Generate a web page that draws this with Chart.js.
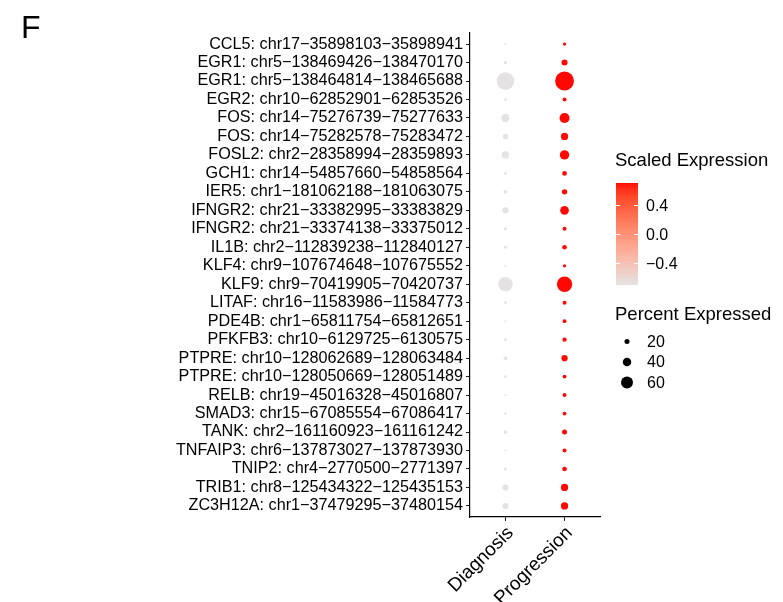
<!DOCTYPE html>
<html>
<head>
<meta charset="utf-8">
<script src="https://cdn.jsdelivr.net/npm/chart.js@4.4.1/dist/chart.umd.min.js"></script>
<style>
html,body{margin:0;padding:0;background:#fff;}
#wrap{width:783px;height:602px;position:relative;}
</style>
</head>
<body>
<div id="wrap"><canvas id="c" width="783" height="602"></canvas></div>
<script>
const features = [
"CCL5: chr17\u221235898103\u221235898941",
"EGR1: chr5\u2212138469426\u2212138470170",
"EGR1: chr5\u2212138464814\u2212138465688",
"EGR2: chr10\u221262852901\u221262853526",
"FOS: chr14\u221275276739\u221275277633",
"FOS: chr14\u221275282578\u221275283472",
"FOSL2: chr2\u221228358994\u221228359893",
"GCH1: chr14\u221254857660\u221254858564",
"IER5: chr1\u2212181062188\u2212181063075",
"IFNGR2: chr21\u221233382995\u221233383829",
"IFNGR2: chr21\u221233374138\u221233375012",
"IL1B: chr2\u2212112839238\u2212112840127",
"KLF4: chr9\u2212107674648\u2212107675552",
"KLF9: chr9\u221270419905\u221270420737",
"LITAF: chr16\u221211583986\u221211584773",
"PDE4B: chr1\u221265811754\u221265812651",
"PFKFB3: chr10\u22126129725\u22126130575",
"PTPRE: chr10\u2212128062689\u2212128063484",
"PTPRE: chr10\u2212128050669\u2212128051489",
"RELB: chr19\u221245016328\u221245016807",
"SMAD3: chr15\u221267085554\u221267086417",
"TANK: chr2\u2212161160923\u2212161161242",
"TNFAIP3: chr6\u2212137873027\u2212137873930",
"TNIP2: chr4\u22122770500\u22122771397",
"TRIB1: chr8\u2212125434322\u2212125435153",
"ZC3H12A: chr1\u221237479295\u221237480154"
];
const groups = ["Diagnosis", "Progression"];
const diagnosisPct   = [3,10,91,7,37,22,33,7,13,27,9,9,3,74,7,3,7,13,7,3,5,13,3,9,26,26];
const progressionPct = [10,26,99,14,49,33,45,18,22,41,14,18,10,79,14,13,16,27,13,14,13,20,14,18,33,33];
const diagnosisScaled   = -0.707;
const progressionScaled = 0.707;
const colorTicks = [0.4, 0.0, -0.4];
const colorTickLabels = ["0.4", "0.0", "\u22120.4"];
const sizeBreaks = [20, 40, 60];

const FONT = '"Liberation Sans", Arial, Helvetica, sans-serif';
const LOW = [227,227,227], HIGH = [255,0,0];
const SCALE_MIN = -0.715, SCALE_MAX = 0.715;

function pctToRadius(p){ return 0.75 + 0.0875 * p; }

function srgbToLin(c){ c/=255; return c<=0.04045? c/12.92 : Math.pow((c+0.055)/1.055,2.4); }
function linToSrgb(c){ c = c<=0.0031308? 12.92*c : 1.055*Math.pow(c,1/2.4)-0.055; return Math.round(Math.max(0,Math.min(1,c))*255); }
function toLab(rgb){
  const [r,g,b] = rgb.map(srgbToLin);
  let X = (0.4124*r+0.3576*g+0.1805*b)/0.95047, Y = 0.2126*r+0.7152*g+0.0722*b, Z=(0.0193*r+0.1192*g+0.9505*b)/1.08883;
  const f = t => t>0.008856? Math.cbrt(t) : 7.787*t+16/116;
  const fx=f(X), fy=f(Y), fz=f(Z);
  return [116*fy-16, 500*(fx-fy), 200*(fy-fz)];
}
function fromLab(lab){
  const fy=(lab[0]+16)/116, fx=fy+lab[1]/500, fz=fy-lab[2]/200;
  const fi = t => t>0.206893? t*t*t : (t-16/116)/7.787;
  const X=fi(fx)*0.95047, Y=fi(fy), Z=fi(fz)*1.08883;
  const r= 3.2406*X-1.5372*Y-0.4986*Z, g=-0.9689*X+1.8758*Y+0.0415*Z, b=0.0557*X-0.2040*Y+1.0570*Z;
  return [linToSrgb(r),linToSrgb(g),linToSrgb(b)];
}
const labLow = toLab(LOW), labHigh = toLab(HIGH);
function colorFor(v){
  let t = (v - SCALE_MIN)/(SCALE_MAX - SCALE_MIN); t = Math.max(0,Math.min(1,t));
  const lab = [0,1,2].map(i => labLow[i] + (labHigh[i]-labLow[i])*t);
  const c = fromLab(lab);
  return `rgb(${c[0]},${c[1]},${c[2]})`;
}

const diagData = features.map((f,i)=>({x:1, y:i+1, r:pctToRadius(diagnosisPct[i])}));
const progData = features.map((f,i)=>({x:2, y:i+1, r:pctToRadius(progressionPct[i])}));

const legendPlugin = {
  id:'legendPlugin',
  afterDraw(chart){
    const ctx = chart.ctx;
    ctx.save();
    ctx.fillStyle = '#000';
    ctx.textAlign = 'left';
    ctx.textBaseline = 'alphabetic';
    ctx.font = '32px ' + FONT;
    ctx.fillText('F', 21, 38);

    ctx.font = '18.5px ' + FONT;
    ctx.fillText('Scaled Expression', 615, 166);

    const bx = 616, by = 183, bw = 22, bh = 102;
    const steps = 60;
    for (let s=0; s<steps; s++){
      const vm = SCALE_MAX - ((s+0.5)/steps)*(SCALE_MAX-SCALE_MIN);
      ctx.fillStyle = colorFor(vm);
      const y0 = by + s*bh/steps;
      ctx.fillRect(bx, Math.floor(y0), bw, Math.ceil(bh/steps)+1);
    }
    ctx.fillStyle='#fff';
    ctx.fillRect(bx, by+bh, bw, 4);
    ctx.strokeStyle = '#fff';
    ctx.lineWidth = 1;
    ctx.font = '16px ' + FONT;
    ctx.textBaseline = 'middle';
    colorTicks.forEach((v,i)=>{
      const y = Math.round(by + (SCALE_MAX - v)/(SCALE_MAX-SCALE_MIN)*bh) + 0.5;
      ctx.beginPath();
      ctx.moveTo(bx, y); ctx.lineTo(bx+4, y);
      ctx.moveTo(bx+bw-4, y); ctx.lineTo(bx+bw, y);
      ctx.stroke();
      ctx.fillStyle = '#000';
      ctx.fillText(colorTickLabels[i], 646, y+1);
    });

    ctx.textBaseline = 'alphabetic';
    ctx.font = '18.5px ' + FONT;
    ctx.fillText('Percent Expressed', 615, 320);
    ctx.font = '16px ' + FONT;
    ctx.textBaseline = 'middle';
    sizeBreaks.forEach((p,i)=>{
      const y = 341.5 + i*20.5;
      ctx.fillStyle = '#000';
      ctx.beginPath();
      ctx.arc(627, y, pctToRadius(p), 0, Math.PI*2);
      ctx.fill();
      ctx.fillText(String(p), 647, y+1);
    });
    ctx.restore();
  }
};

new Chart(document.getElementById('c'), {
  type:'bubble',
  data:{
    datasets:[
      {label:groups[0], data:diagData, backgroundColor:colorFor(diagnosisScaled), borderWidth:0, hoverBorderWidth:0},
      {label:groups[1], data:progData, backgroundColor:colorFor(progressionScaled), borderWidth:0, hoverBorderWidth:0}
    ]
  },
  options:{
    responsive:false,
    animation:false,
    events:[],
    layout:{padding:{left:0, right:183, top:33, bottom:0}},
    plugins:{legend:{display:false}, tooltip:{enabled:false}},
    scales:{
      x:{
        type:'linear', min:0.4, max:2.6,
        afterBuildTicks:(axis)=>{ axis.ticks = [{value:1},{value:2}]; },
        afterFit:(scale)=>{ scale.height = 85; },
        grid:{drawOnChartArea:false, drawTicks:true, tickLength:4, color:'#222', lineWidth:1},
        border:{display:true, color:'#000', width:1.2},
        ticks:{
          autoSkip:false, maxRotation:45, minRotation:45, padding:1, labelOffset:5,
          color:'#000', font:{family:FONT, size:19},
          callback:(v)=> groups[Math.round(v)-1]
        }
      },
      y:{
        type:'linear', min:0.4, max:26.6, reverse:true,
        afterBuildTicks:(axis)=>{ axis.ticks = features.map((f,i)=>({value:i+1})); },
        afterFit:(scale)=>{ scale.width = 470; },
        grid:{drawOnChartArea:false, drawTicks:true, tickLength:4, color:'#222', lineWidth:1},
        border:{display:true, color:'#000', width:1.2},
        ticks:{
          autoSkip:false, padding:3,
          color:'#000', font:{family:FONT, size:16.2},
          callback:(v)=> features[Math.round(v)-1]
        }
      }
    }
  },
  plugins:[legendPlugin]
});
</script>
</body>
</html>
